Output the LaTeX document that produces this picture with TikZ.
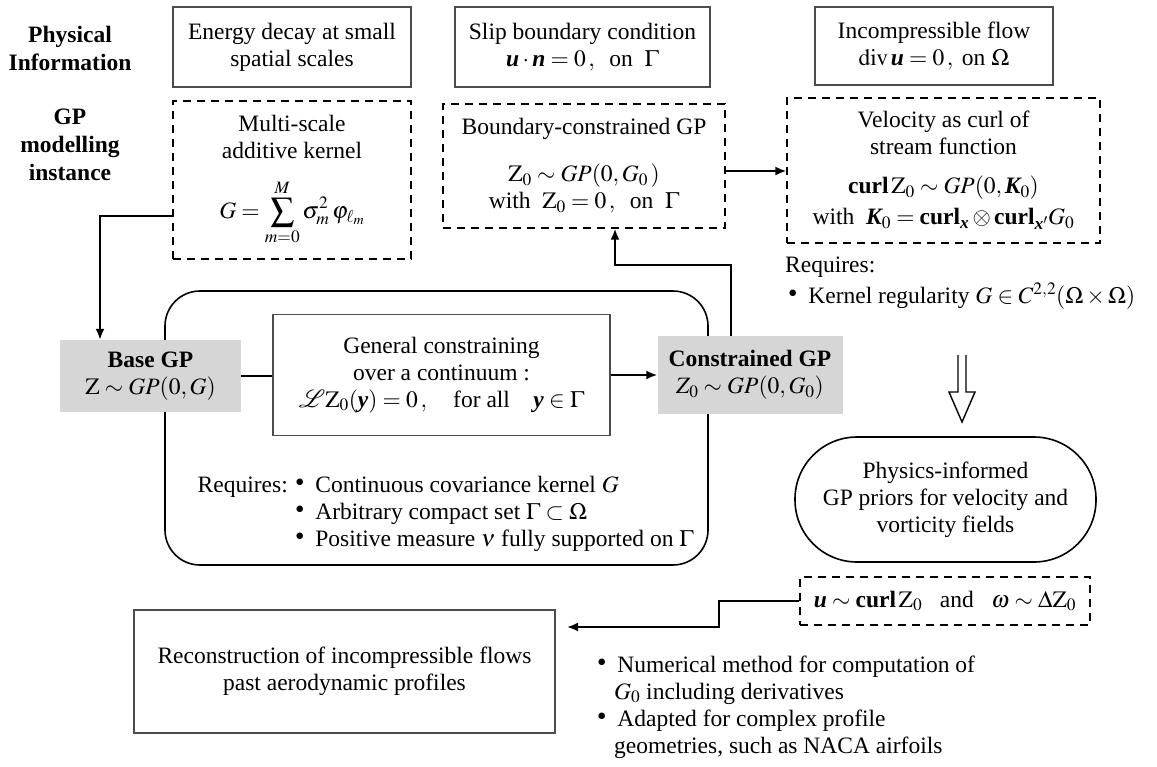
\documentclass[tikz,border=0pt]{standalone}
\usepackage{amsmath}
\usepackage{mathptmx}
\usepackage{mathrsfs}
\usepackage[no-math]{fontspec}
\setmainfont{Liberation Serif}
\newfontfamily\djv{DejaVu Sans}
\usetikzlibrary{arrows.meta,calc}
\newcommand\bv[1]{\text{\bfseries\itshape #1}}
\newcommand\bcurl{\text{\bfseries curl}}
\newcommand\blt{\raisebox{8pt}{\djv\fontsize{8.5}{8.5}\selectfont ●}\ \ }
\begin{document}
\begin{tikzpicture}[x=1pt,y=-1pt,
  every node/.style={font=\fontsize{23.5}{27}\selectfont, inner sep=0pt, align=center},
  lbl/.style={font=\fontsize{23.5}{28}\selectfont\bfseries},
  sbox/.style={draw=black!70, line width=1.1pt},
  dbox/.style={draw=black, line width=1.3pt, dash pattern=on 8pt off 6pt},
  gbox/.style={fill=black!16},
  conn/.style={line width=2pt},
  arr/.style={conn, -{Latex[length=11pt,width=9pt]}}
]
\fill[white] (0,0) rectangle (1157,766);
\useasboundingbox (0,0) rectangle (1157,766);

% labels
\node[lbl] (physinfo) at (70,48) {Physical\\Information};
\node[lbl] (gpmi) at (70,145) {GP\\modelling\\instance};

% physical information boxes
\node[sbox, minimum width=238pt, minimum height=80pt] (energy) at (292,47) {Energy decay at small\\spatial scales};
\node[sbox, minimum width=255pt, minimum height=80pt] (slip) at (582.5,47) {Slip boundary condition\\$\bv{u}\cdot\bv{n}=0\,,\ \ \text{on}\ \ \Gamma$};
\node[sbox, minimum width=238pt, minimum height=78pt] (incomp) at (934,46) {Incompressible flow\\$\operatorname{div}\bv{u}=0\,,\ \text{on}\ \Omega$};

% GP modelling instances
\node[dbox, minimum width=238pt, minimum height=158pt] (kbox) at (292,180) {Multi-scale\\additive kernel\\[20pt]$\displaystyle G=\sum_{m=0}^{M}\sigma_m^2\,\varphi_{\ell_m}$};
\node[dbox, minimum width=282pt, minimum height=124pt] (bcgp) at (584,166) {Boundary-constrained GP\\[20pt]$\mathrm{Z}_0\sim GP(0,G_0\,)$\\with\ \ $\mathrm{Z}_0=0\,,\ \ \text{on}\ \ \Gamma$};
\node[dbox, minimum width=313pt, minimum height=145pt] (vbox) at (943.5,170.5) {Velocity as curl of\\stream function\\[12pt]$\bcurl\,\mathrm{Z}_0\sim GP(0,\bv{K}_0)$\\[4pt]with\ \ $\bv{K}_0=\bcurl_{\bv{x}}\otimes\bcurl_{\bv{x}'}G_0$};

\node[anchor=base west] (req1) at (785,272) {Requires:};
\node[anchor=base west] (reqk) at (789,303) {\blt Kernel regularity $G\in C^{2,2}(\Omega\times\Omega)$};

% constraining frame
\node[draw, line width=1.6pt, rounded corners=35pt, minimum width=543pt, minimum height=274pt] (frame) at (436.5,428) {};
\node[sbox, fill=white, minimum width=337pt, minimum height=121pt] (gen) at (441.5,375) {General constraining\\over a continuum :\\$\mathscr{L}\mathrm{Z}_0(\bv{y})=0\,,\quad\text{for all}\quad\bv{y}\in\Gamma$};
\node[gbox, minimum width=181pt, minimum height=72pt] (base) at (150.5,376) {\textbf{Base GP}\\$\mathrm{Z}\sim GP(0,G)$};
\node[gbox, minimum width=185pt, minimum height=78pt] (cgp) at (750,375) {\textbf{Constrained GP}\\$Z_0\sim GP(0,G_0)$};

\node[anchor=base east] (req2) at (288,492) {Requires:};
\node[anchor=base west] (r1) at (296,492) {\blt Continuous covariance kernel $G$};
\node[anchor=base west] (r2) at (296,519) {\blt Arbitrary compact set $\Gamma\subset\Omega$};
\node[anchor=base west] (r3) at (296,546) {\blt Positive measure $\nu$ fully supported on $\Gamma$};

% outcome
\node[draw, line width=1.6pt, rounded corners=62pt, minimum width=301pt, minimum height=125pt] (phys) at (945.5,499.5) {Physics-informed\\GP priors for velocity and\\vorticity fields};
\node[dbox, minimum width=290pt, minimum height=48pt] (ubox) at (945,601) {$\bv{u}\sim\bcurl\,\mathrm{Z}_0$\ \ \ and\ \ \ $\omega\sim\Delta\mathrm{Z}_0$};
\node[sbox, minimum width=421pt, minimum height=123pt] (recon) at (344.5,671.5) {Reconstruction of incompressible flows\\past aerodynamic profiles};

\node[anchor=base west] (n1) at (598,672) {\blt Numerical method for computation of};
\node[anchor=base west] (n2) at (614,699) {$G_0$ including derivatives};
\node[anchor=base west] (n3) at (598,726) {\blt Adapted for complex profile};
\node[anchor=base west] (n4) at (614,753) {geometries, such as NACA airfoils};

% connectors
\draw[arr] ([yshift=-36pt]kbox.west) -| ([xshift=-50.5pt]base.north);
\draw[arr] ([yshift=-5pt]bcgp.east) -- ([yshift=-5pt]bcgp.east -| vbox.west);
\draw[conn] (base.east) -- (base.east -| gen.west);
\draw[arr] (gen.east) -- (gen.east -| cgp.west);
\coordinate (bend) at (615,265);
\draw[arr] ([xshift=-19pt]cgp.north) |- (bend) -- (bend |- bcgp.south);
\coordinate (rtip) at (567,627);
\draw[arr] (ubox.west) -- ++(-80,0) |- (rtip);

% hollow implication arrow
\draw[line width=1.4pt, line join=miter] (958,355) -- (958,392) -- (949,392) -- (962,422) -- (975,392) -- (966,392) -- (966,355);
\end{tikzpicture}
\end{document}
